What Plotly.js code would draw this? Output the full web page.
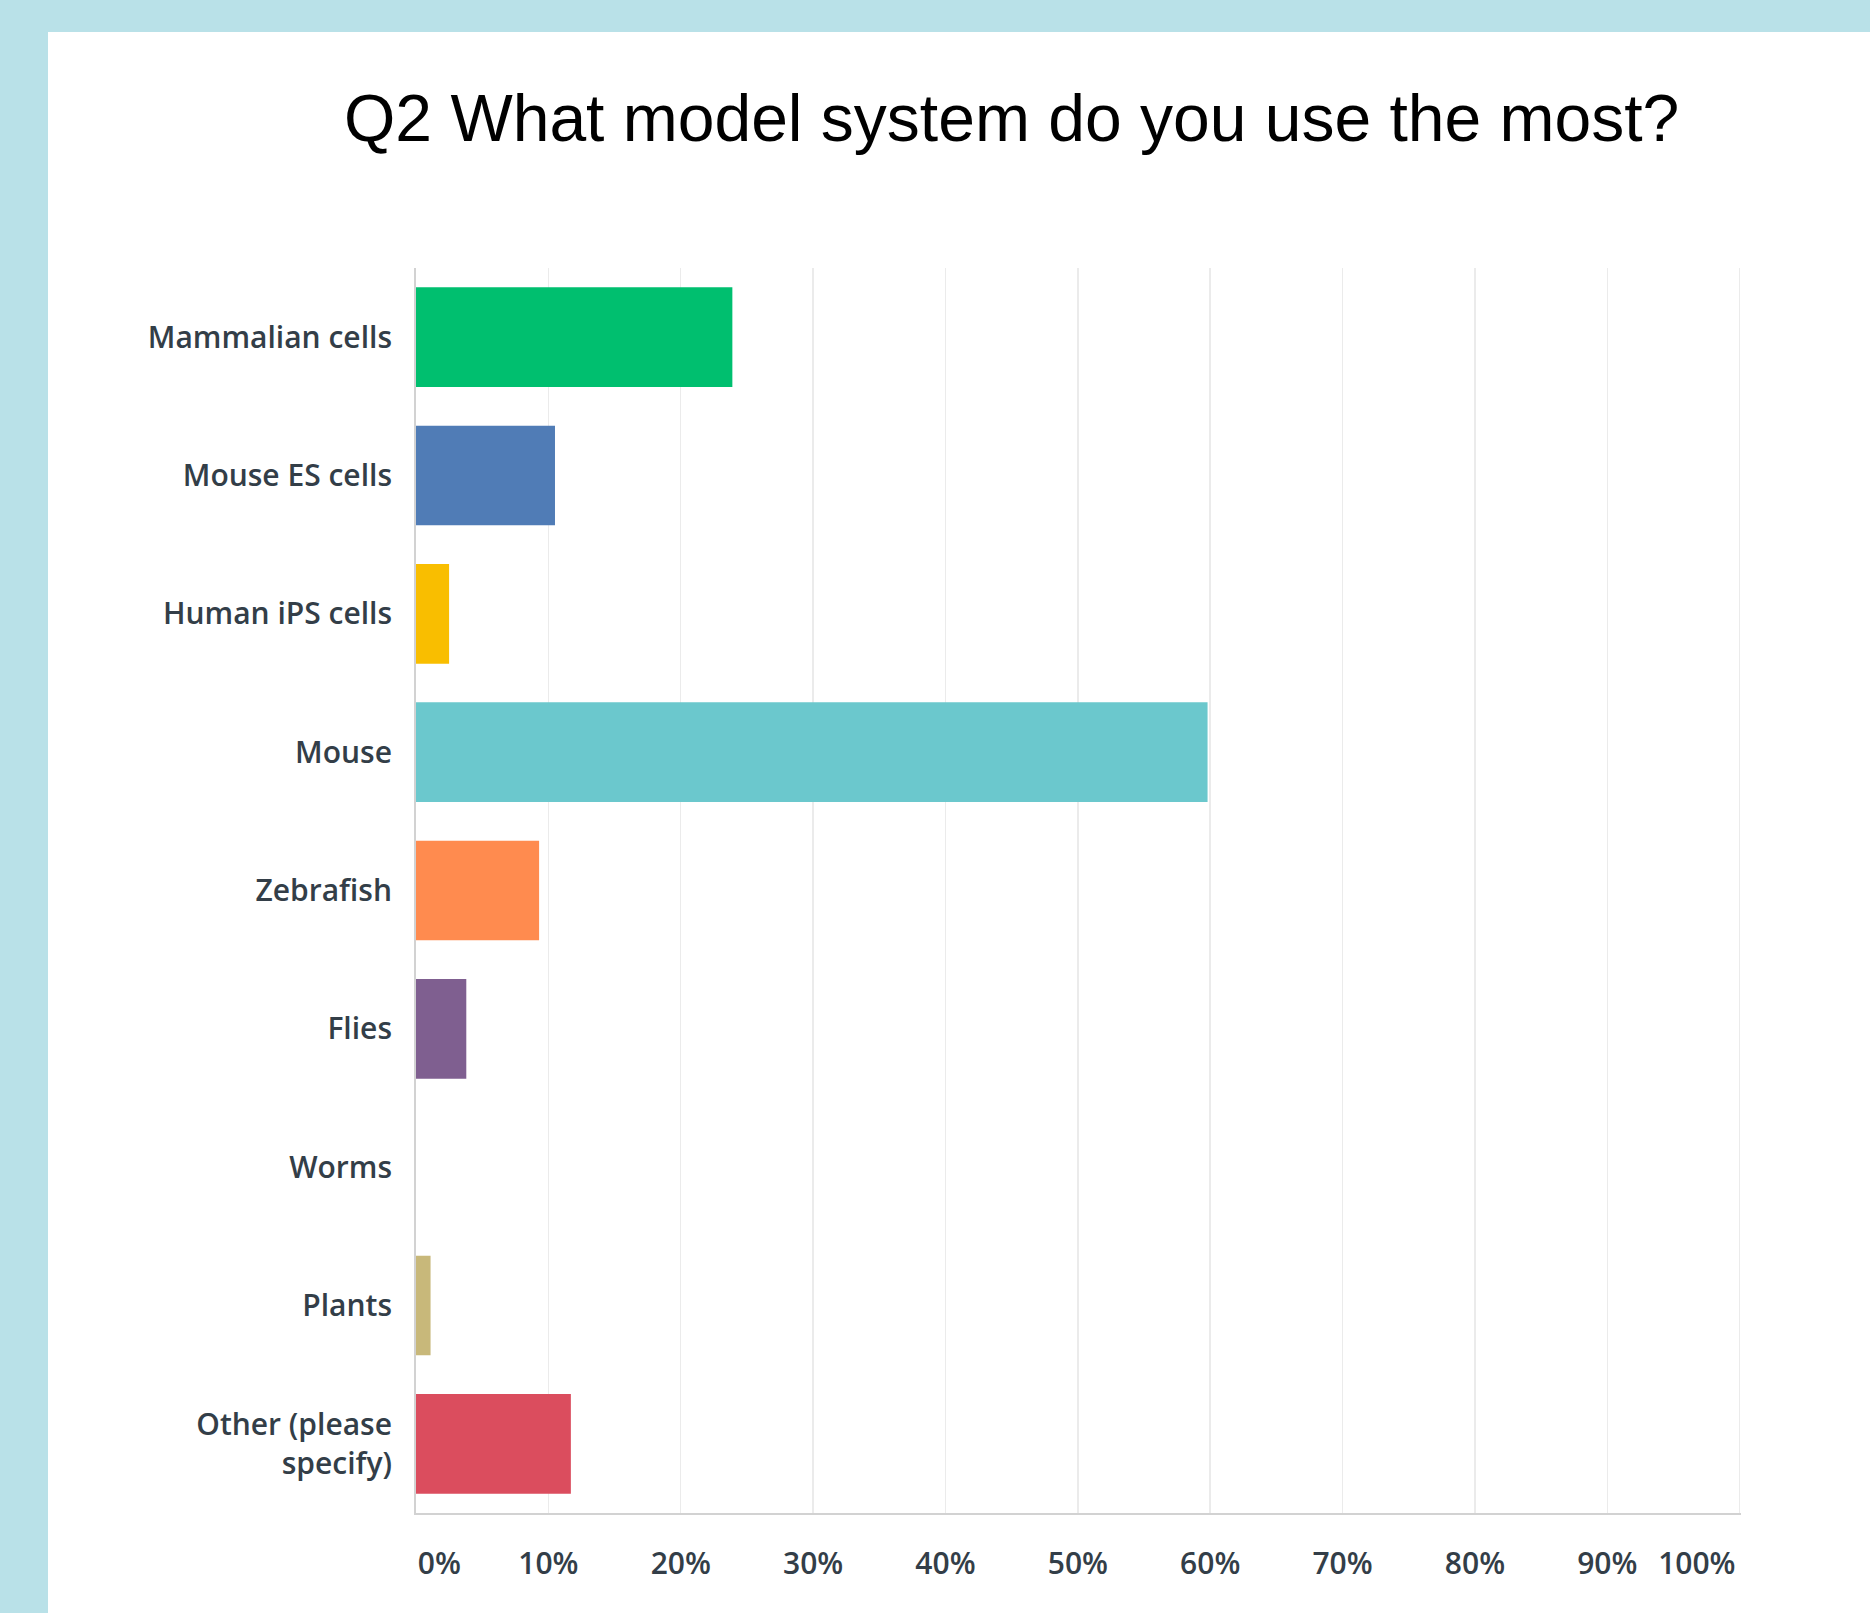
<!DOCTYPE html>
<html>
<head>
<meta charset="utf-8">
<script src="https://cdn.plot.ly/plotly-3.0.1.min.js"></script>
<style>
  html, body { margin: 0; padding: 0; width: 1870px; height: 1613px; overflow: hidden; background: #b9e1e8; }
  #panel { position: absolute; left: 48px; top: 32px; right: 0; bottom: 0; background: #ffffff; }
  #chart { position: absolute; left: 0; top: 0; width: 1870px; height: 1613px; }
</style>
</head>
<body>
<div id="panel"></div>
<div id="chart"></div>
<script>
// ---- data ----
const categories = [
  "Mammalian cells",
  "Mouse ES cells",
  "Human iPS cells",
  "Mouse",
  "Zebrafish",
  "Flies",
  "Worms",
  "Plants",
  "Other (please<br>specify)"
];
const percentValues = [23.9, 10.5, 2.5, 59.8, 9.3, 3.8, 0, 1.1, 11.7];
const barColors = ["#00bf6f", "#507cb6", "#f9be00", "#6bc8cd", "#ff8b4f", "#7f5f90", "#d25f90", "#c8b87a", "#db4d5e"];
const xTickValues = [0, 10, 20, 30, 40, 50, 60, 70, 80, 90, 100];
const xTickLabels = ["0%", "10%", "20%", "30%", "40%", "50%", "60%", "70%", "80%", "90%", "100%"];
const chartTitle = "Q2 What model system do you use the most?";

// nudge first / last x tick labels inward like the original
const nb = "\u00a0";
const xTickText = xTickLabels.map((t, i) => {
  if (i === 0) return nb.repeat(6) + t;
  if (i === xTickLabels.length - 1) return t + nb.repeat(11);
  return t;
});

const textColor = "#333e48";
const labelFont = { family: "Open Sans, sans-serif", size: 30, color: textColor, weight: 600 };

const trace = {
  type: "bar",
  orientation: "h",
  y: categories,
  x: percentValues,
  marker: { color: barColors, line: { width: 0 } },
  hoverinfo: "x+y"
};

const layout = {
  width: 1870,
  height: 1613,
  paper_bgcolor: "rgba(0,0,0,0)",
  plot_bgcolor: "rgba(0,0,0,0)",
  margin: { l: 416, r: 129, t: 268, b: 100, pad: 0 },
  showlegend: false,
  bargap: 0.28,
  title: {
    text: chartTitle,
    font: { family: "Liberation Sans, Arial, sans-serif", size: 66, color: "#000000" },
    xref: "container", yref: "container",
    x: 0.541, xanchor: "center",
    y: 0.927, yanchor: "middle"
  },
  xaxis: {
    range: [0, 100.1],
    tickvals: xTickValues,
    ticktext: xTickText,
    showgrid: true,
    gridcolor: "#ebebeb",
    gridwidth: 1.5,
    zeroline: false,
    showline: true,
    linecolor: "#d2d2d2",
    linewidth: 2,
    ticks: "",
    ticklabelstandoff: 23,
    tickfont: labelFont,
    fixedrange: true
  },
  yaxis: {
    type: "category",
    autorange: "reversed",
    showgrid: false,
    zeroline: false,
    showline: true,
    linecolor: "#d2d2d2",
    linewidth: 2,
    ticks: "",
    ticklabelstandoff: 16,
    tickfont: labelFont,
    fixedrange: true
  }
};

Plotly.newPlot("chart", [trace], layout, { displayModeBar: false, staticPlot: true });
</script>
</body>
</html>
